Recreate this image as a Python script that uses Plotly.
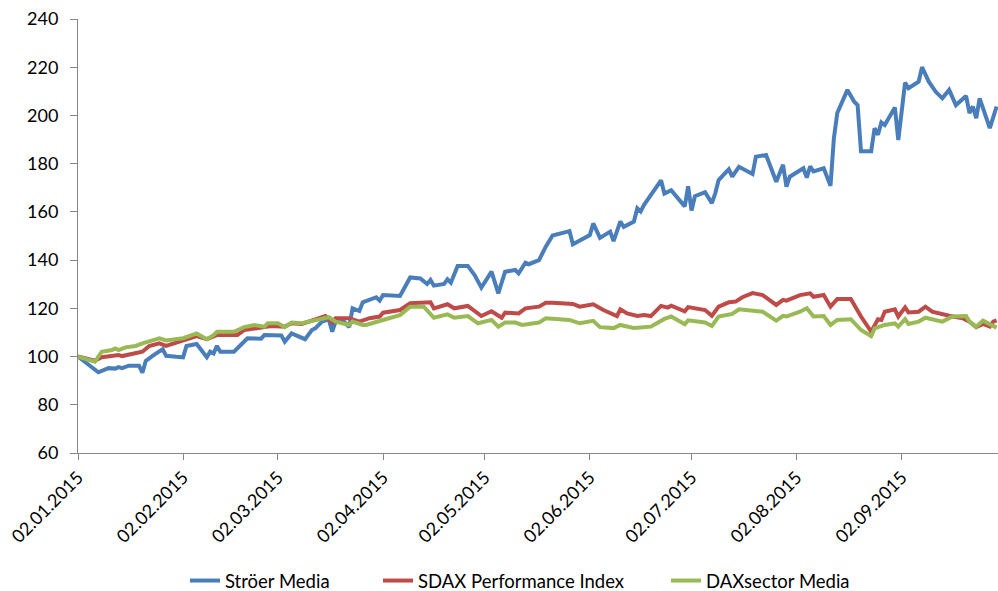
import plotly.graph_objects as go

# ---------------- data ----------------
stroeer_dates = [
    "2015-01-02", "2015-01-08", "2015-01-11", "2015-01-13", "2015-01-14", "2015-01-15", "2015-01-17",
    "2015-01-20", "2015-01-21", "2015-01-22", "2015-01-24", "2015-01-27", "2015-01-28", "2015-01-29",
    "2015-01-31", "2015-02-02", "2015-02-03", "2015-02-06", "2015-02-07", "2015-02-09", "2015-02-10",
    "2015-02-11", "2015-02-12", "2015-02-13", "2015-02-17", "2015-02-21", "2015-02-25", "2015-02-26",
    "2015-03-03", "2015-03-04", "2015-03-06", "2015-03-10", "2015-03-12", "2015-03-13", "2015-03-15",
    "2015-03-17", "2015-03-18", "2015-03-19", "2015-03-21", "2015-03-23", "2015-03-24", "2015-03-26",
    "2015-03-27", "2015-03-31", "2015-04-01", "2015-04-02", "2015-04-07", "2015-04-10", "2015-04-13",
    "2015-04-15", "2015-04-16", "2015-04-17", "2015-04-20", "2015-04-21", "2015-04-22", "2015-04-24",
    "2015-04-27", "2015-04-29", "2015-05-01", "2015-05-04", "2015-05-06", "2015-05-08", "2015-05-11",
    "2015-05-12", "2015-05-14", "2015-05-15", "2015-05-18", "2015-05-20", "2015-05-22", "2015-05-27",
    "2015-05-28", "2015-06-02", "2015-06-03", "2015-06-05", "2015-06-08", "2015-06-09", "2015-06-11",
    "2015-06-12", "2015-06-15", "2015-06-16", "2015-06-17", "2015-06-18", "2015-06-23", "2015-06-24",
    "2015-06-26", "2015-06-30", "2015-07-01", "2015-07-02", "2015-07-03", "2015-07-06", "2015-07-08",
    "2015-07-09", "2015-07-10", "2015-07-13", "2015-07-14", "2015-07-16", "2015-07-20", "2015-07-21",
    "2015-07-24", "2015-07-27", "2015-07-29", "2015-07-30", "2015-07-31", "2015-08-04", "2015-08-05",
    "2015-08-06", "2015-08-07", "2015-08-10", "2015-08-12", "2015-08-13", "2015-08-14", "2015-08-17",
    "2015-08-19", "2015-08-20", "2015-08-21", "2015-08-24", "2015-08-25", "2015-08-26", "2015-08-27",
    "2015-08-28", "2015-08-31", "2015-09-01", "2015-09-03", "2015-09-04", "2015-09-07", "2015-09-08",
    "2015-09-10", "2015-09-12", "2015-09-14", "2015-09-16", "2015-09-18", "2015-09-21", "2015-09-22",
    "2015-09-23", "2015-09-24", "2015-09-25", "2015-09-28", "2015-09-30",
]
stroeer_values = [
    100, 93.5, 95.2, 95.0, 95.6, 95.2, 96.2,
    96.2, 93.3, 98.2, 100.3, 103.1, 100.3, 100.3,
    99.9, 99.7, 104.4, 105.2, 103.4, 99.7, 102.0,
    101.3, 104.4, 102.0, 102.0, 107.6, 107.4, 108.9,
    108.7, 106.2, 109.6, 107.2, 111.0, 111.7, 114.5,
    115.4, 110.3, 114.5, 115.2, 112.2, 120.0, 118.9,
    122.5, 124.6, 123.2, 125.5, 125.1, 132.8, 132.4,
    130.1, 131.8, 129.4, 130.1, 132.0, 130.6, 137.6,
    137.6, 133.8, 128.6, 135.2, 126.2, 135.2, 135.9,
    134.5, 138.9, 138.3, 140.0, 145.6, 150.2, 152.0,
    146.6, 150.4, 155.2, 149.2, 151.8, 147.9, 156.0,
    153.8, 156.0, 161.5, 160.2, 162.9, 173.1, 167.6,
    169.0, 162.3, 170.6, 160.6, 166.5, 168.2, 163.6,
    167.7, 173.2, 177.7, 174.6, 178.7, 175.7, 182.9,
    183.6, 172.5, 179.5, 170.5, 174.6, 178.1, 174.2,
    178.9, 176.8, 178.1, 170.8, 190.6, 201.0, 210.6,
    205.7, 204.3, 185.1, 185.1, 194.7, 192.0, 197.1,
    196.0, 203.3, 189.8, 213.6, 211.3, 214.0, 220.0,
    214.0, 209.9, 207.1, 210.6, 204.3, 208.1, 201.0,
    203.7, 198.9, 207.1, 194.7, 203.7,
]

sdax_dates = [
    "2015-01-02", "2015-01-07", "2015-01-09", "2015-01-12", "2015-01-14", "2015-01-15", "2015-01-19",
    "2015-01-21", "2015-01-23", "2015-01-26", "2015-01-28", "2015-02-02", "2015-02-06", "2015-02-09",
    "2015-02-12", "2015-02-18", "2015-02-20", "2015-02-26", "2015-02-28", "2015-03-04", "2015-03-06",
    "2015-03-09", "2015-03-11", "2015-03-16", "2015-03-18", "2015-03-19", "2015-03-23", "2015-03-26",
    "2015-03-29", "2015-04-01", "2015-04-02", "2015-04-07", "2015-04-10", "2015-04-15", "2015-04-16",
    "2015-04-17", "2015-04-21", "2015-04-23", "2015-04-27", "2015-05-01", "2015-05-04", "2015-05-07",
    "2015-05-08", "2015-05-12", "2015-05-14", "2015-05-18", "2015-05-20", "2015-05-22", "2015-05-28",
    "2015-05-30", "2015-06-03", "2015-06-06", "2015-06-08", "2015-06-10", "2015-06-11", "2015-06-13",
    "2015-06-16", "2015-06-18", "2015-06-20", "2015-06-23", "2015-06-25", "2015-06-26", "2015-06-30",
    "2015-07-01", "2015-07-06", "2015-07-08", "2015-07-10", "2015-07-13", "2015-07-15", "2015-07-17",
    "2015-07-20", "2015-07-23", "2015-07-27", "2015-07-29", "2015-07-30", "2015-08-03", "2015-08-06",
    "2015-08-07", "2015-08-10", "2015-08-12", "2015-08-14", "2015-08-18", "2015-08-21", "2015-08-24",
    "2015-08-26", "2015-08-27", "2015-08-28", "2015-08-31", "2015-09-01", "2015-09-03", "2015-09-04",
    "2015-09-07", "2015-09-09", "2015-09-11", "2015-09-16", "2015-09-20", "2015-09-22", "2015-09-24",
    "2015-09-26", "2015-09-28", "2015-09-29", "2015-09-30",
]
sdax_values = [
    100, 98.3, 99.7, 100.0, 100.6, 100.2, 101.3,
    102.0, 104.4, 105.5, 104.4, 106.7, 108.5, 107.2,
    108.9, 108.9, 111.0, 112.2, 112.7, 112.4, 113.8,
    113.5, 114.5, 116.8, 114.1, 115.9, 115.9, 114.5,
    115.9, 116.6, 118.2, 119.3, 122.1, 122.1, 122.5,
    120.0, 121.7, 120.0, 121.0, 116.8, 118.8, 116.1,
    118.2, 117.9, 120.0, 120.7, 122.3, 122.3, 121.8,
    120.7, 121.7, 119.3, 118.2, 116.8, 119.6, 117.9,
    116.8, 117.2, 116.8, 121.0, 120.3, 121.1, 118.8,
    120.5, 119.3, 116.9, 120.7, 122.5, 122.8, 124.6,
    126.3, 125.5, 121.4, 123.5, 123.2, 125.5, 126.2,
    124.8, 125.5, 120.7, 123.9, 123.9, 116.6, 110.3,
    115.5, 115.2, 118.6, 119.6, 116.6, 120.4, 118.3,
    118.6, 120.7, 118.6, 116.9, 115.9, 114.5, 112.2,
    113.5, 112.4, 114.5, 115.0,
]

media_dates = [
    "2015-01-02", "2015-01-07", "2015-01-09", "2015-01-12", "2015-01-13", "2015-01-14", "2015-01-16",
    "2015-01-19", "2015-01-21", "2015-01-26", "2015-01-28", "2015-02-02", "2015-02-06", "2015-02-09",
    "2015-02-11", "2015-02-12", "2015-02-17", "2015-02-20", "2015-02-23", "2015-02-26", "2015-02-27",
    "2015-03-02", "2015-03-04", "2015-03-06", "2015-03-09", "2015-03-15", "2015-03-17", "2015-03-19",
    "2015-03-23", "2015-03-24", "2015-03-27", "2015-03-28", "2015-03-31", "2015-04-01", "2015-04-04",
    "2015-04-07", "2015-04-10", "2015-04-14", "2015-04-15", "2015-04-17", "2015-04-21", "2015-04-23",
    "2015-04-27", "2015-04-30", "2015-05-04", "2015-05-06", "2015-05-08", "2015-05-11", "2015-05-13",
    "2015-05-18", "2015-05-20", "2015-05-27", "2015-05-30", "2015-06-03", "2015-06-05", "2015-06-09",
    "2015-06-11", "2015-06-15", "2015-06-20", "2015-06-24", "2015-06-26", "2015-06-30", "2015-07-01",
    "2015-07-06", "2015-07-08", "2015-07-10", "2015-07-14", "2015-07-16", "2015-07-23", "2015-07-27",
    "2015-07-29", "2015-07-30", "2015-08-03", "2015-08-05", "2015-08-07", "2015-08-10", "2015-08-12",
    "2015-08-14", "2015-08-18", "2015-08-21", "2015-08-24", "2015-08-25", "2015-08-28", "2015-08-31",
    "2015-09-01", "2015-09-03", "2015-09-04", "2015-09-07", "2015-09-09", "2015-09-14", "2015-09-17",
    "2015-09-21", "2015-09-22", "2015-09-24", "2015-09-26", "2015-09-28", "2015-09-30",
]
media_values = [
    100, 97.9, 102.0, 102.7, 103.4, 102.7, 103.8,
    104.4, 105.5, 107.6, 106.7, 107.6, 109.6, 107.2,
    108.9, 110.3, 110.3, 112.2, 113.1, 112.4, 113.8,
    113.8, 112.2, 114.1, 113.8, 115.9, 116.3, 114.5,
    113.1, 114.5, 113.1, 113.1, 114.5, 114.8, 116.0,
    117.2, 120.7, 120.7, 119.3, 116.1, 117.5, 116.1,
    116.8, 113.8, 115.2, 112.4, 114.1, 114.1, 113.1,
    114.1, 115.9, 115.2, 113.8, 114.8, 112.2, 111.8,
    113.1, 111.8, 112.4, 115.6, 116.6, 113.4, 115.0,
    114.1, 112.7, 116.6, 117.7, 119.6, 118.6, 114.9,
    116.9, 116.6, 118.6, 120.0, 116.6, 116.8, 113.1,
    115.2, 115.5, 111.0, 108.5, 111.7, 113.1, 113.8,
    112.4, 115.5, 113.5, 114.5, 116.1, 114.5, 116.6,
    116.8, 114.5, 112.4, 114.9, 113.5, 112.0,
]

tick_dates = ["2015-01-02", "2015-02-02", "2015-03-02", "2015-04-02", "2015-05-02",
              "2015-06-02", "2015-07-02", "2015-08-02", "2015-09-02"]
tick_labels = ["02.01.2015", "02.02.2015", "02.03.2015", "02.04.2015", "02.05.2015",
               "02.06.2015", "02.07.2015", "02.08.2015", "02.09.2015"]

series_names = ["Ströer Media", "SDAX Performance Index", "DAXsector Media"]
series_colors = ["#4A7EBB", "#BE4B48", "#98B954"]

# ---------------- figure ----------------
FONT = "Lato"
W, H = 998, 591
legend_ids = ["legend", "legend2", "legend3"]
legend_left_px = [185, 378, 666]

fig = go.Figure()
for name, xs, ys, col, lid in zip(series_names,
                                  [stroeer_dates, sdax_dates, media_dates],
                                  [stroeer_values, sdax_values, media_values],
                                  series_colors, legend_ids):
    fig.add_trace(go.Scatter(x=xs, y=ys, name=name, mode="lines",
                             line=dict(color=col, width=4), legend=lid))

axis_col = "#868686"
legend_common = dict(orientation="h", xref="container", yref="container",
                     xanchor="left", y=0.0169, yanchor="middle",
                     font=dict(family=FONT, size=18.5, color="#000000"),
                     bgcolor="rgba(0,0,0,0)", borderwidth=0)
layout_legends = {}
for lid, lx in zip(legend_ids, legend_left_px):
    layout_legends[lid] = dict(legend_common, x=lx / W)

fig.update_layout(
    width=W, height=H,
    margin=dict(l=78, r=0, t=19, b=138, autoexpand=False),
    paper_bgcolor="white", plot_bgcolor="white",
    font=dict(family=FONT, size=18, color="#000000"),
    showlegend=True,
    xaxis=dict(type="date", range=["2015-01-02", "2015-09-30 10:00"],
               tickmode="array", tickvals=tick_dates, ticktext=tick_labels,
               tickangle=-45, showgrid=False, zeroline=False, automargin=False,
               ticklabeloverflow="allow",
               showline=True, linecolor=axis_col, linewidth=1,
               ticks="outside", ticklen=6, tickcolor=axis_col,
               tickfont=dict(family=FONT, size=18)),
    yaxis=dict(range=[60, 240], tickmode="linear", tick0=60, dtick=20,
               showgrid=False, zeroline=False, automargin=False,
               ticklabeloverflow="allow",
               showline=True, linecolor=axis_col, linewidth=1,
               ticks="outside", ticklen=7, tickcolor=axis_col,
               ticklabelstandoff=8,
               tickfont=dict(family=FONT, size=18)),
    **layout_legends,
)

# remove the default page margin so the figure fills the window exactly
page_fix = ("document.body.style.margin='0';"
            "document.body.style.overflow='hidden';"
            "document.documentElement.style.overflow='hidden';")
fig.write_html("out.html", post_script=page_fix,
               config={"displayModeBar": False})
